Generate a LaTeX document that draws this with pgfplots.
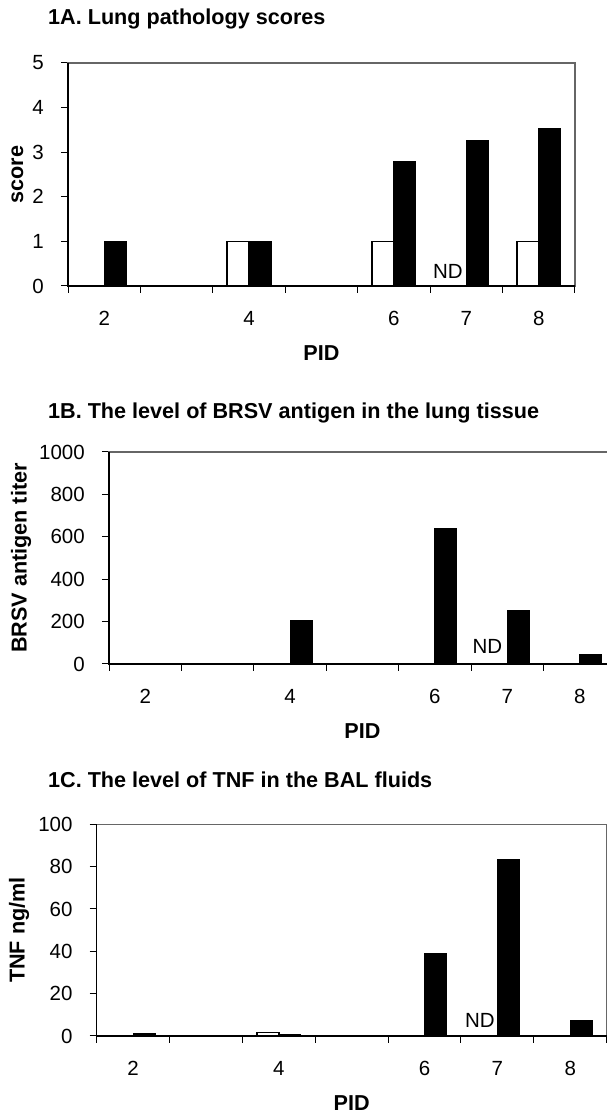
\documentclass[border=0pt]{standalone}
\usepackage{pgfplots}
\pgfplotsset{compat=1.18}
\usepackage{fontspec}
\setmainfont{Liberation Sans}
\newcommand{\tickfont}{\fontsize{20.5}{24}\selectfont}
\newcommand{\labfont}{\fontsize{21.6}{25}\selectfont\bfseries}
\tikzset{ndnode/.style={anchor=south east, inner sep=0pt, font=\tickfont}}
\pgfplotsset{
  panel/.style={
    scale only axis,
    anchor=south west,
    xmin=0.5, xmax=7.5, ymin=0,
    xtick={0.5,1.5,...,7.5},
    xticklabels={,,,,,,,},
    extra x ticks={1,2,3,4,5,6,7},
    extra x tick labels={2,,4,,6,7,8},
    extra x tick style={major tick length=0pt},
    xtick pos=bottom,
    ytick pos=left,
    tick align=outside,
    major tick length=7pt,
    tick style={black, line width=1pt},
    axis line style={black!60, line width=1.3pt},
    tick label style={font=\tickfont},
    x tick label style={anchor=center, inner sep=0pt, yshift=-32pt},
    y tick label style={anchor=east, inner sep=0pt, xshift=-17pt},
    /pgf/number format/assume math mode=true,
    /pgf/number format/1000 sep={},
    every axis title shift=0pt,
    title style={anchor=base west, font=\labfont, inner sep=0pt},
    xlabel style={anchor=center, font=\labfont, inner sep=0pt},
    ylabel style={anchor=center, font=\labfont, inner sep=0pt},
    clip=false,
  },
  whitebar/.style={ybar, bar width=22pt, bar shift=-11pt, fill=white, draw=black, line width=1.5pt},
  blackbar/.style={ybar, bar width=22pt, bar shift=11pt, fill=black, draw=black, line width=1pt},
}
\begin{document}
\begin{tikzpicture}
\path[use as bounding box] (0pt,0pt) rectangle (607pt,1113pt);
% ---------- Panel 1A ----------
\begin{axis}[panel,
  at={(68pt,827pt)}, width=507pt, height=223pt,
  ymax=5, ytick={0,1,2,3,4,5},
  title={1A. Lung pathology scores},
  title style={at={(axis description cs:-0.0394,1.1726)}},
  xlabel={PID}, xlabel style={at={(axis description cs:0.5,-0.3004)}},
  ylabel={score}, ylabel style={at={(axis description cs:-0.0998,0.5)}},
]
\addplot[whitebar] coordinates {(3,1) (5,1) (7,1)};
\addplot[blackbar] coordinates {(1,1) (3,1) (5,2.8) (6,3.27) (7,3.52)};
\draw[black, line width=1.5pt] (rel axis cs:0,1) -- (rel axis cs:0,0) -- (rel axis cs:1,0);
\node[ndnode, xshift=-3.5pt, yshift=7pt] at (axis cs:6,0) {ND};
\end{axis}
% ---------- Panel 1B ----------
\begin{axis}[panel,
  at={(109pt,449pt)}, width=507pt, height=212pt,
  ymax=1000, ytick={0,200,400,600,800,1000},
  title={1B. The level of BRSV antigen in the lung tissue},
  title style={at={(axis description cs:-0.1203,1.158)}},
  xlabel={PID}, xlabel style={at={(axis description cs:0.5,-0.3184)}},
  ylabel={BRSV antigen titer}, ylabel style={at={(axis description cs:-0.1736,0.5)}},
]
\addplot[blackbar] coordinates {(3,207) (5,639) (6,253) (7,47)};
\draw[black, line width=1.5pt] (rel axis cs:0,1) -- (rel axis cs:0,0) -- (rel axis cs:1,0);
\node[ndnode, xshift=-5pt, yshift=10pt] at (axis cs:6,0) {ND};
\end{axis}
% ---------- Panel 1C ----------
\begin{axis}[panel,
  at={(96.7pt,77pt)}, width=510pt, height=211.7pt,
  ymax=100, ytick={0,20,40,60,80,100},
  title={1C. The level of TNF in the BAL fluids},
  title style={at={(axis description cs:-0.0955,1.176)}},
  xlabel={PID}, xlabel style={at={(axis description cs:0.5,-0.3165)}},
  ylabel={TNF ng/ml}, ylabel style={at={(axis description cs:-0.1524,0.5)}},
]
\addplot[whitebar] coordinates {(3,1.6)};
\addplot[blackbar] coordinates {(1,1.2) (3,0.7) (5,39.2) (6,83.4) (7,7.4)};
\draw[black, line width=1.5pt] (rel axis cs:0,1) -- (rel axis cs:0,0) -- (rel axis cs:1,0);
\node[ndnode, xshift=-2.5pt, yshift=8.5pt] at (axis cs:6,0) {ND};
\end{axis}
\end{tikzpicture}
\end{document}
